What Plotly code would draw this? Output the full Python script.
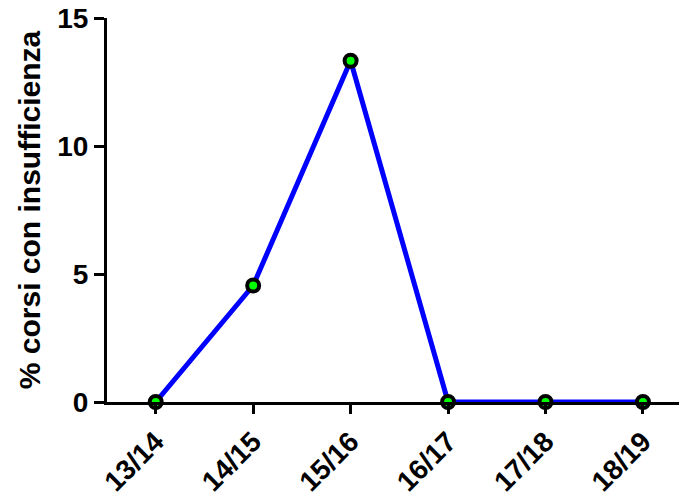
import plotly.graph_objects as go

categories = ["13/14", "14/15", "15/16", "16/17", "17/18", "18/19"]
values = [0, 4.55, 13.33, 0, 0, 0]
y_ticks = [0, 5, 10, 15]

fig = go.Figure()
fig.add_trace(go.Scatter(
    x=list(range(len(categories))), y=values, mode="lines+markers",
    line=dict(color="#0000FF", width=5),
    marker=dict(size=12, color="#00FF00", line=dict(color="black", width=4)),
    cliponaxis=False,
))

font = "Liberation Sans, Arial, sans-serif"
fig.update_layout(
    width=679, height=496,
    margin=dict(l=107, r=0, t=18, b=94),
    plot_bgcolor="white", paper_bgcolor="white",
    showlegend=False,
    font=dict(family=font, color="black"),
)
fig.update_xaxes(
    range=[-0.5, 5.37], tickmode="array",
    tickvals=list(range(len(categories))), ticktext=["<b>%s</b>" % c for c in categories],
    tickangle=-45, tickfont=dict(size=28, family=font),
    showline=True, linecolor="black", linewidth=3,
    ticks="outside", ticklen=9, tickwidth=3, tickcolor="black",
    showgrid=False, zeroline=False,
)
fig.update_yaxes(
    range=[0, 15], tickmode="array", tickvals=y_ticks,
    ticktext=["<b>%d</b>" % v for v in y_ticks],
    tickfont=dict(size=28, family=font),
    title=dict(text="<b>% corsi con insufficienza</b>", font=dict(size=30, family=font), standoff=8),
    showline=True, linecolor="black", linewidth=3,
    ticks="outside", ticklen=10, tickwidth=3, tickcolor="black",
    showgrid=False, zeroline=False,
)
fig.write_html("out.html", config={"displayModeBar": False},
               post_script="document.body.style.margin='0';")
